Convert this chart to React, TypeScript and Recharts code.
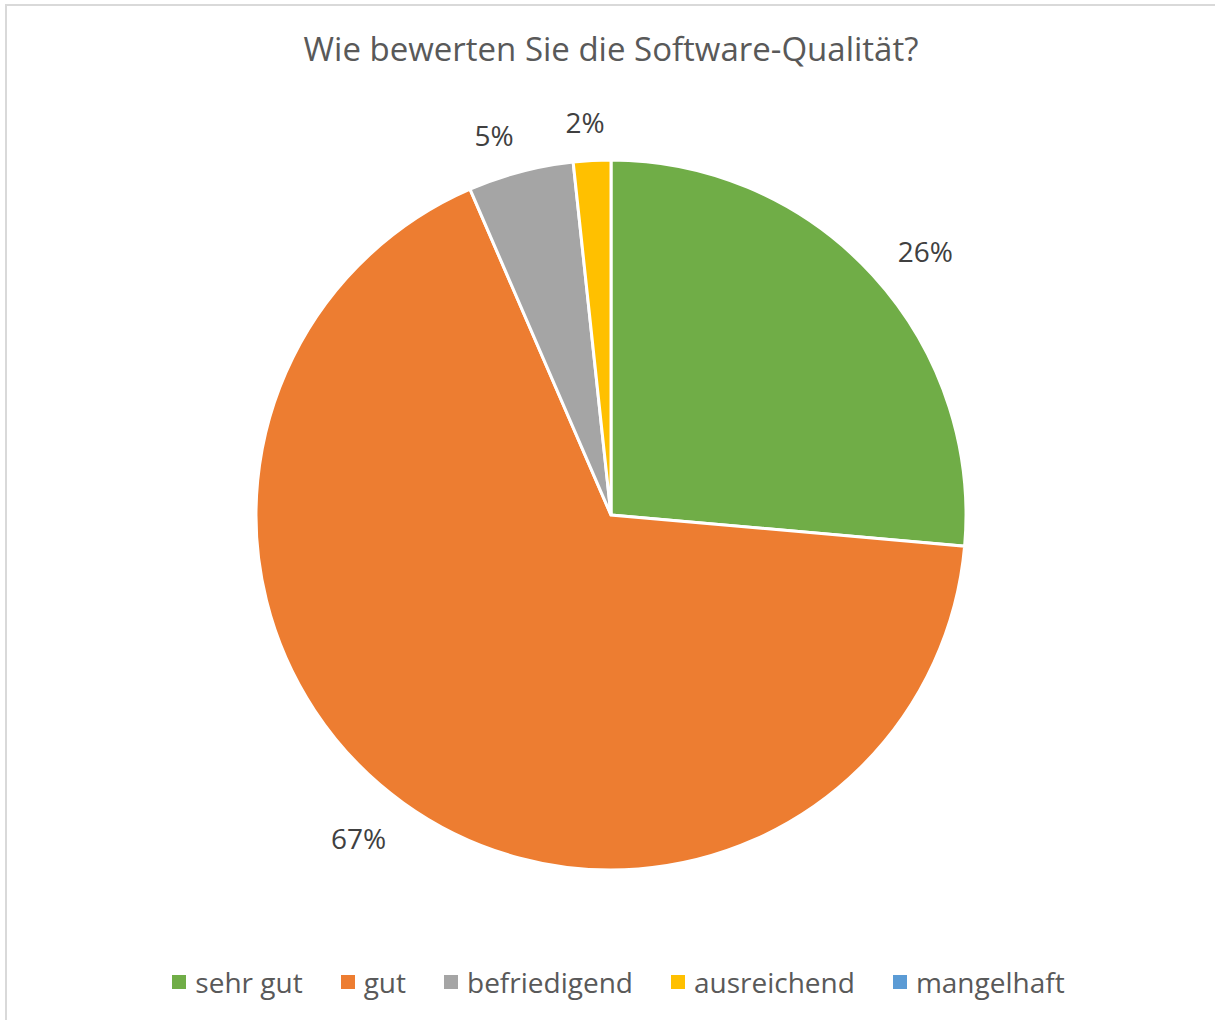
import React from "react";
import { PieChart, Pie, Cell, Legend } from "recharts";

const categories = ["sehr gut", "gut", "befriedigend", "ausreichend", "mangelhaft"];
const shares = [26.4, 67.1, 4.8, 1.7, 0];
const colors = ["#70AD47", "#ED7D31", "#A5A5A5", "#FFC000", "#5B9BD5"];
const title = "Wie bewerten Sie die Software-Qualität?";

const data = categories.map((name, i) => ({ name, value: shares[i] }));

const FONT = "'Open Sans', 'Segoe UI', sans-serif";

const renderLabel = (props: any) => {
  const { cx, cy, midAngle, outerRadius, percent, value } = props;
  if (!value) return null;
  const text = `${Math.round(percent * 100)}%`;
  const rad = (-midAngle * Math.PI) / 180;
  const c0 = Math.cos(rad);
  const s0 = Math.sin(rad);
  // pull the label direction slightly toward the horizontal (like Excel's placement)
  const elev = Math.asin(Math.min(1, Math.abs(s0)));
  const shift = ((2.3 * Math.PI) / 180) * Math.min(1, (Math.PI / 2 - elev) / ((10 * Math.PI) / 180));
  const elev2 = elev - shift;
  const c = Math.sign(c0 || 1) * Math.cos(elev2);
  const s = Math.sign(s0 || 1) * Math.sin(elev2);
  const w = text.length * 18.5;
  const h = 22;
  const R = outerRadius + 28 + (Math.abs(c) * w) / 2 + (Math.abs(s) * h) / 2;
  return (
    <text
      x={cx + R * c}
      y={cy + R * s + 1}
      textAnchor="middle"
      dominantBaseline="central"
      fill="#404040"
      fontSize={28}
      fontFamily={FONT}
    >
      {text}
    </text>
  );
};

const renderLegend = (props: any) => {
  const payload = [...(props.payload || [])].sort(
    (a: any, b: any) => categories.indexOf(a.value) - categories.indexOf(b.value)
  );
  return (
    <div
      style={{
        display: "flex",
        justifyContent: "center",
        alignItems: "center",
        gap: 38,
        fontFamily: FONT,
        fontSize: 28,
        color: "#595959",
      }}
    >
      {payload.map((entry: any, i: number) => (
        <div key={i} style={{ display: "flex", alignItems: "center" }}>
          <span
            style={{
              display: "inline-block",
              width: 14,
              height: 14,
              background: entry.color,
              marginRight: 9,
            }}
          />
          <span>{entry.value}</span>
        </div>
      ))}
    </div>
  );
};

export default function App() {
  return (
    <div
      style={{
        position: "absolute",
        left: 0,
        top: 0,
        width: 1215,
        height: 1020,
        overflow: "hidden",
        background: "#ffffff",
      }}
    >
      <div
        style={{
          position: "absolute",
          left: 5,
          top: 4,
          width: 1230,
          height: 1040,
          border: "2px solid #D9D9D9",
          boxSizing: "border-box",
        }}
      />
      <svg
        width={1215}
        height={90}
        style={{ position: "absolute", left: 0, top: 0 }}
      >
        <text
          x={611}
          y={61}
          textAnchor="middle"
          fill="#595959"
          fontSize={33}
          fontFamily={FONT}
        >
          {title}
        </text>
      </svg>
      <div style={{ position: "absolute", left: 0, top: 0 }}>
        <PieChart width={1215} height={1020} margin={{ top: 0, right: 0, bottom: 0, left: 0 }}>
          <Pie
            data={data}
            dataKey="value"
            nameKey="name"
            cx={611}
            cy={515}
            outerRadius={355}
            startAngle={90}
            endAngle={-270}
            stroke="#ffffff"
            strokeWidth={3}
            label={renderLabel}
            labelLine={false}
            isAnimationActive={false}
          >
            {data.map((d, i) => (
              <Cell key={d.name} fill={colors[i]} />
            ))}
          </Pie>
          <Legend
            content={renderLegend}
            wrapperStyle={{ position: "absolute", left: 11, top: 963, width: 1215, bottom: "auto" }}
          />
        </PieChart>
      </div>
    </div>
  );
}
